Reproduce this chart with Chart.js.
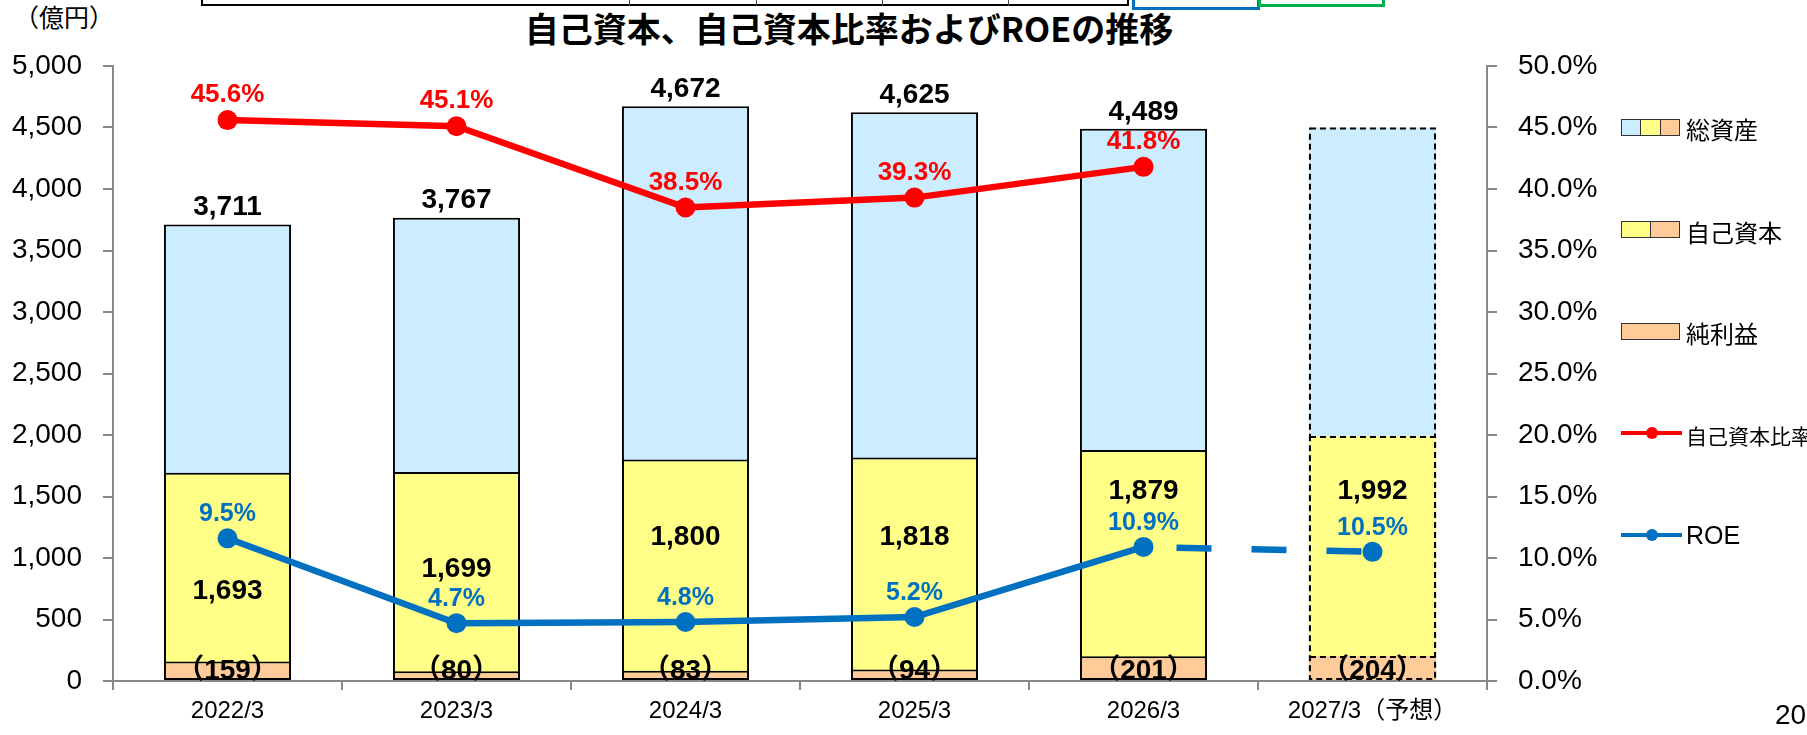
<!DOCTYPE html>
<html lang="ja">
<head>
<meta charset="utf-8">
<title>自己資本、自己資本比率およびROEの推移</title>
<script src="https://cdn.jsdelivr.net/npm/chart.js@4.4.1/dist/chart.umd.min.js"></script>
<style>
  body { margin: 0; width: 1807px; height: 735px; overflow: hidden; background: #fff; position: relative; font-family: "Noto Sans CJK JP", "Liberation Sans", sans-serif; }
  #grafico { position: absolute; left: 0; top: 0; }
  .abs { position: absolute; white-space: nowrap; }
  .titulo { left: 449px; top: 10px; width: 800px; text-align: center; font-size: 34px; line-height: 36px; font-weight: bold; }
  .unidade { left: 14px; top: 4px; font-size: 25px; line-height: 25px; }
  .pagina { left: 1775px; top: 699px; font-family: "Liberation Sans"; font-size: 28px; line-height: 32px; }
  .caixa { display: flex; border: 1.5px solid #333; box-sizing: border-box; height: 17px; width: 59px; left: 1621px; }
  .caixa span { flex: 1; }
  .caixa span + span { border-left: 1.5px solid #333; }
  .txt { left: 1686px; font-size: 24px; line-height: 24px; }
  .linha { left: 1621px; width: 61px; height: 4px; }
  .ponto { width: 12px; height: 12px; border-radius: 50%; left: 1646px; }
</style>
</head>
<body>
<!-- restos da tabela acima do gráfico -->
<div class="abs" style="left:201px;top:-10px;width:928px;height:16px;border:2px solid #000;box-sizing:border-box;"></div>
<div class="abs" style="left:629px;top:0;width:1px;height:6px;background:#444;"></div>
<div class="abs" style="left:756px;top:0;width:1px;height:6px;background:#444;"></div>
<div class="abs" style="left:882px;top:0;width:1px;height:6px;background:#444;"></div>
<div class="abs" style="left:1008px;top:0;width:1px;height:6px;background:#444;"></div>
<div class="abs" style="left:1132px;top:-10px;width:128px;height:20px;border:3px solid #0070C0;box-sizing:border-box;"></div>
<div class="abs" style="left:1258px;top:-10px;width:127px;height:17px;border:3px solid #00B050;box-sizing:border-box;"></div>

<div class="abs titulo">自己資本、自己資本比率およびROEの推移</div>
<div class="abs unidade">（億円）</div>

<canvas id="grafico" width="1807" height="735"></canvas>

<!-- legenda -->
<div class="abs caixa" style="top:119px;"><span style="background:#CCECFF"></span><span style="background:#FFFF88"></span><span style="background:#FFCC99"></span></div>
<div class="abs txt" style="top:117px;">総資産</div>
<div class="abs caixa" style="top:221px;"><span style="background:#FFFF88"></span><span style="background:#FFCC99"></span></div>
<div class="abs txt" style="top:220px;">自己資本</div>
<div class="abs caixa" style="top:323px;"><span style="background:#FFCC99"></span></div>
<div class="abs txt" style="top:321px;">純利益</div>
<div class="abs linha" style="top:431px;background:#FF0000;"></div>
<div class="abs ponto" style="top:427px;background:#FF0000;"></div>
<div class="abs txt" style="top:424px;font-size:21px;line-height:22px;">自己資本比率</div>
<div class="abs linha" style="top:533px;background:#0070C0;"></div>
<div class="abs ponto" style="top:529px;background:#0070C0;"></div>
<div class="abs txt" style="top:521px;font-family:'Liberation Sans';font-size:25px;line-height:28px;">ROE</div>

<div class="abs pagina">20</div>

<script>
// dados (億円 / %)
const categorias = ['2022/3', '2023/3', '2024/3', '2025/3', '2026/3', '2027/3（予想）'];
const totalAtivos = [3711, 3767, 4672, 4625, 4489, 4500];
const patrimonio = [1693, 1699, 1800, 1818, 1879, 1992];
const lucroLiquido = [159, 80, 83, 94, 201, 204];
const indicePatrimonio = [45.6, 45.1, 38.5, 39.3, 41.8, null];
const roe = [11.6, 4.7, 4.8, 5.2, 10.9, 10.5];
const rotulosRoe = ['9.5%', '4.7%', '4.8%', '5.2%', '10.9%', '10.5%'];
const indicePrevisao = 5;

// altura (em 億円) onde fica o rótulo do patrimônio dentro da barra
const alturaRotuloPatrimonio = [730, 910, 1170, 1170, 1540, 1540];

const fonteNumero = '"Liberation Sans", "Noto Sans CJK JP", sans-serif';

const pluginRotulos = {
    id: 'rotulos',
    // contorno tracejado da barra de previsão
    afterDatasetDraw(chart, args) {
        if (args.meta.type !== 'bar') return;
        const el = args.meta.data[indicePrevisao];
        if (!el) return;
        const { x, y, base, width } = el.getProps(['x', 'y', 'base', 'width'], true);
        const ctx = chart.ctx;
        ctx.save();
        ctx.strokeStyle = '#000';
        ctx.lineWidth = 2;
        ctx.setLineDash([6, 4]);
        ctx.strokeRect(x - width / 2 + 1, y + 1, width - 2, base - y - 2);
        ctx.restore();
    },
    afterDatasetsDraw(chart) {
        const ctx = chart.ctx;
        const sx = chart.scales.x, sy = chart.scales.y, sy1 = chart.scales.y1;
        ctx.save();
        ctx.textAlign = 'center';
        ctx.textBaseline = 'middle';
        ctx.fillStyle = '#000';
        ctx.font = 'bold 28px ' + fonteNumero;
        categorias.forEach((c, i) => {
            const x = sx.getPixelForValue(i);
            if (i !== indicePrevisao) {
                ctx.fillText(totalAtivos[i].toLocaleString('en-US'), x, sy.getPixelForValue(totalAtivos[i]) - 17);
            }
            ctx.fillText(patrimonio[i].toLocaleString('en-US'), x, sy.getPixelForValue(alturaRotuloPatrimonio[i]));
            ctx.fillText('（' + lucroLiquido[i] + '）', x, sy.getPixelForValue(0) - 10);
        });
        ctx.font = 'bold 26px ' + fonteNumero;
        ctx.fillStyle = '#FF0000';
        indicePatrimonio.forEach((v, i) => {
            if (v === null) return;
            ctx.fillText(v.toFixed(1) + '%', sx.getPixelForValue(i), sy1.getPixelForValue(v) - 25);
        });
        ctx.font = 'bold 25px ' + fonteNumero;
        ctx.fillStyle = '#0070C0';
        roe.forEach((v, i) => {
            ctx.fillText(rotulosRoe[i], sx.getPixelForValue(i), sy1.getPixelForValue(v) - 24);
        });
        ctx.restore();
    }
};

const bordaBarra = ctx => ctx.dataIndex === indicePrevisao ? 0 : 2;

const barraBase = {
    type: 'bar',
    yAxisID: 'y',
    grouped: false,
    barPercentage: 0.555,
    categoryPercentage: 1,
    borderColor: '#000',
    borderWidth: bordaBarra,
    borderSkipped: false
};

const fonteEixo = { family: '"Liberation Sans", "Noto Sans CJK JP"', size: 28 };

const canvasGrafico = document.getElementById('grafico').getContext('2d');

new Chart(canvasGrafico, {
    data: {
        labels: categorias,
        datasets: [
            { type: 'line', label: '自己資本比率', data: indicePatrimonio, yAxisID: 'y1', order: 0,
              borderColor: '#FF0000', backgroundColor: '#FF0000', borderWidth: 6.5,
              pointRadius: 10, pointBorderWidth: 0, pointBackgroundColor: '#FF0000' },
            { type: 'line', label: 'ROE', data: roe, yAxisID: 'y1', order: 1,
              borderColor: '#0070C0', backgroundColor: '#0070C0', borderWidth: 6.5,
              pointRadius: 10, pointBorderWidth: 0, pointBackgroundColor: '#0070C0',
              segment: {
                  borderDash: ctx => ctx.p1DataIndex === indicePrevisao ? [35, 40] : undefined,
                  borderDashOffset: ctx => ctx.p1DataIndex === indicePrevisao ? 42 : undefined
              } },
            { ...barraBase, label: '純利益', data: lucroLiquido, order: 2, backgroundColor: '#FFCC99' },
            { ...barraBase, label: '自己資本', data: patrimonio, order: 3, backgroundColor: '#FFFF88' },
            { ...barraBase, label: '総資産', data: totalAtivos, order: 4, backgroundColor: '#CCECFF' }
        ]
    },
    options: {
        responsive: false,
        animation: false,
        layout: { padding: { top: 66, left: 0, right: 0, bottom: 0 } },
        plugins: { legend: { display: false }, tooltip: { enabled: false } },
        scales: {
            x: {
                grid: { drawOnChartArea: false, offset: true, tickLength: 9, color: '#888', lineWidth: 2 },
                border: { color: '#888', width: 2 },
                ticks: { color: '#000', padding: 7, maxRotation: 0, autoSkip: false,
                         font: { family: '"Liberation Sans", "Noto Sans CJK JP"', size: 24 } },
                afterFit(s) { s.height = 54; }
            },
            y: {
                position: 'left', min: 0, max: 5000,
                grid: { drawOnChartArea: false, tickLength: 10, color: '#888', lineWidth: 2 },
                border: { color: '#888', width: 2 },
                ticks: { stepSize: 500, color: '#000', padding: 21, font: fonteEixo,
                         callback: v => v.toLocaleString('en-US') },
                afterFit(s) { s.width = 113; }
            },
            y1: {
                position: 'right', min: 0, max: 50,
                grid: { drawOnChartArea: false, tickLength: 10, color: '#888', lineWidth: 2 },
                border: { color: '#888', width: 2 },
                ticks: { stepSize: 5, color: '#000', padding: 21, font: fonteEixo,
                         callback: v => v.toFixed(1) + '%' },
                afterFit(s) { s.width = 320; }
            }
        }
    },
    plugins: [pluginRotulos]
});
</script>
</body>
</html>
